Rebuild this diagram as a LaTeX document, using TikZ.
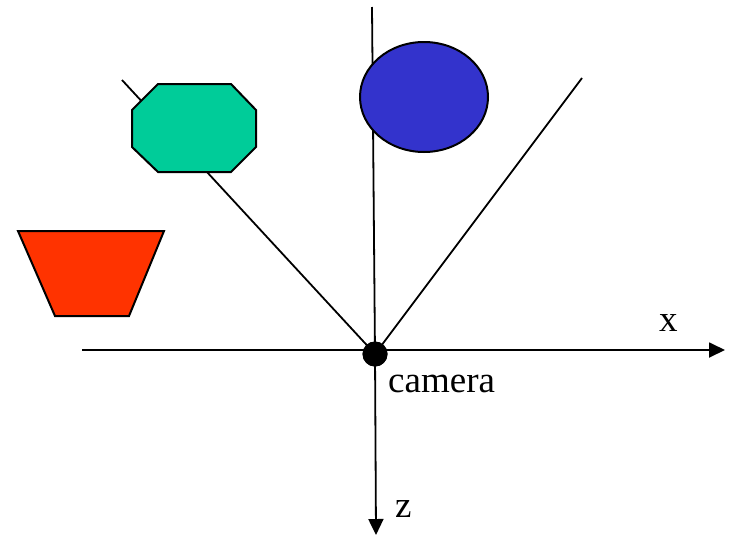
\documentclass[tikz,border=0pt]{standalone}
\usepackage{fontspec}
\setmainfont{Liberation Serif}
\usetikzlibrary{arrows.meta}
\definecolor{octgreen}{HTML}{00CC99}
\definecolor{ellblue}{HTML}{3333CC}
\definecolor{traporange}{HTML}{FF3300}
\tikzset{
  axis/.style={line width=1.8pt,-{Triangle[length=16pt,width=15pt]}},
  ray/.style={line width=1.8pt},
  solid shape/.style={draw=black,line width=2pt,line join=miter},
  lbl/.style={font=\fontsize{37}{40}\selectfont,inner sep=0pt},
}
\begin{document}
\begin{tikzpicture}[x=1pt,y=-1pt]
\useasboundingbox (0,0) rectangle (730,536);
% camera
\node[circle,fill=black,minimum size=25pt,inner sep=0pt] (cam) at (375,354) {};
\coordinate (xl) at (82,350);
\coordinate (xr) at (725,350);
\coordinate (ztop) at (372,7);
\coordinate (zbot) at (376,535);
\coordinate (rl) at (122,80);
\coordinate (rr) at (582,78);
% rays and axes
\draw[ray] (rl) -- (cam.center);
\draw[ray] (rr) -- (cam.center);
\draw[ray] (ztop) -- (cam.center);
\draw[axis] (xl) -- (xr);
\draw[axis] (cam.center) -- (zbot);
\node[circle,fill=black,minimum size=25pt,inner sep=0pt] at (cam) {};
% shapes
\draw[solid shape,fill=octgreen] (158,84) -- (231,84) -- (256,110) -- (256,147) -- (231,172) -- (158,172) -- (132,147) -- (132,110) -- cycle;
\draw[solid shape,fill=ellblue] (424,97) ellipse [x radius=64, y radius=55];
\draw[solid shape,fill=traporange] (18,231) -- (164,231) -- (129,316) -- (55,316) -- cycle;
% labels
\node[lbl,anchor=base west] (camlbl) at (388,392) {camera};
\node[lbl,anchor=base west] (xlbl) at (659,331) {x};
\node[lbl,anchor=base west] (zlbl) at (395,517) {z};
\end{tikzpicture}
\end{document}
